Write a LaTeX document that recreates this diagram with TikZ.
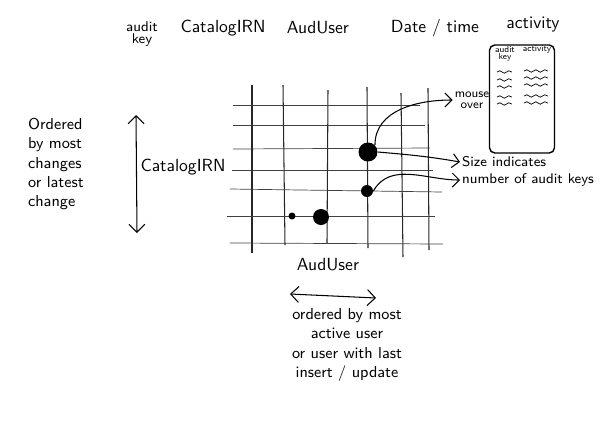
\documentclass[tikz,border=0pt]{standalone}
\usetikzlibrary{arrows.meta,decorations.pathmorphing}
\begin{document}
\begin{tikzpicture}[x=0.02cm,y=-0.02cm,font=\sffamily,
  gridline/.style={semithick,black!85},
  rowline/.style={thin,black!75},
  lbl/.style={inner sep=1pt},
  note/.style={font=\sffamily\small,inner sep=1pt},
  twoway/.style={{Straight Barb[length=1.6mm]}-{Straight Barb[length=1.6mm]},semithick},
  pointer/.style={-{Straight Barb[length=1.4mm]},semithick},
  dot/.style={circle,fill=black,inner sep=0pt},
  squiggle/.style={thin,decorate,decoration={snake,amplitude=0.25mm,segment length=1.8mm}}]
\useasboundingbox (0,0) rectangle (600,424);
% column titles
\node[lbl,align=center,font=\sffamily\footnotesize] (keyhead) at (142,34) {audit\\[-3pt]key};
\node[lbl] (irnhead) at (223,28) {CatalogIRN};
\node[lbl] (userhead) at (318,28) {AudUser};
\node[lbl] (datehead) at (435,28) {Date / time};
\node[lbl] (acthead) at (533,25) {activity};
% grid
\draw[gridline] (252,85) -- (252,253);
\draw[gridline] (283,85) -- (285,245);
\draw[gridline] (328,90) -- (327,243);
\draw[gridline] (367,87) -- (368,248);
\draw[gridline] (401,93) -- (403,257);
\draw[gridline] (428,88) -- (429,250);
\draw[rowline] (233,105) -- (420,105);
\draw[rowline] (233,125) -- (425,125);
\draw[rowline] (233,149) -- (430,148);
\draw[rowline] (232,170) -- (433,170);
\draw[rowline] (230,189) -- (442,192);
\draw[rowline] (227,216) -- (435,216);
\draw[rowline] (230,243) -- (443,244);
% dots
\node[dot,minimum size=0.14cm] (lowdot) at (292,216) {};
\node[dot,minimum size=0.32cm] (userdot) at (321,217) {};
\node[dot,minimum size=0.38cm] (bigdot) at (368,152) {};
\node[dot,minimum size=0.24cm] (middot) at (367,191) {};
% axis labels
\node[lbl] (rowlabel) at (183,167) {CatalogIRN};
\node[lbl] (collabel) at (328,265) {AudUser};
\coordinate (vtop) at (136,115);
\coordinate (vbot) at (137,233);
\draw[twoway] (vtop) -- (vbot);
\coordinate (hleft) at (290,294);
\coordinate (hright) at (376,298);
\draw[twoway] (hleft) -- (hright);
\node[note,align=left,anchor=north west] (roworder) at (26,116)
  {Ordered\\by most\\changes\\or latest\\change};
\node[note,align=center] (colorder) at (347,345)
  {ordered by most\\active user\\or user with last\\insert / update};
% detail popup
\node[draw,thick,rounded corners=3pt,minimum width=1.3cm,minimum height=2.16cm] (popup) at (522,99) {};
\node[lbl,align=center,font=\sffamily\tiny] (popkey) at (505,54) {audit\\[-2pt]key};
\node[lbl,font=\sffamily\tiny] (popact) at (537,49) {activity};
\draw[squiggle] (497,72) -- (512,72);
\draw[squiggle] (497,80) -- (512,80);
\draw[squiggle] (497,87) -- (512,87);
\draw[squiggle] (497,97) -- (512,97);
\draw[squiggle] (497,104) -- (512,104);
\draw[squiggle] (524,71) -- (548,71);
\draw[squiggle] (524,78) -- (548,78);
\draw[squiggle] (524,85) -- (548,85);
\draw[squiggle] (524,96) -- (548,96);
\draw[squiggle] (524,103) -- (548,103);
% annotations
\node[lbl,align=center,font=\sffamily\scriptsize] (mouse) at (472,100) {mouse\\[-2pt]over};
\node[note,anchor=west,font=\sffamily\footnotesize] (sizenote) at (460,162) {Size indicates};
\node[note,anchor=west,font=\sffamily\footnotesize] (countnote) at (460,180) {number of audit keys};
\draw[pointer] (bigdot.north east) to[out=90,in=180] (mouse.west);
\draw[pointer] (bigdot.east) to[out=-5,in=170] (sizenote.west);
\draw[pointer] (middot.east) to[out=60,in=180] (countnote.west);
\end{tikzpicture}
\end{document}
